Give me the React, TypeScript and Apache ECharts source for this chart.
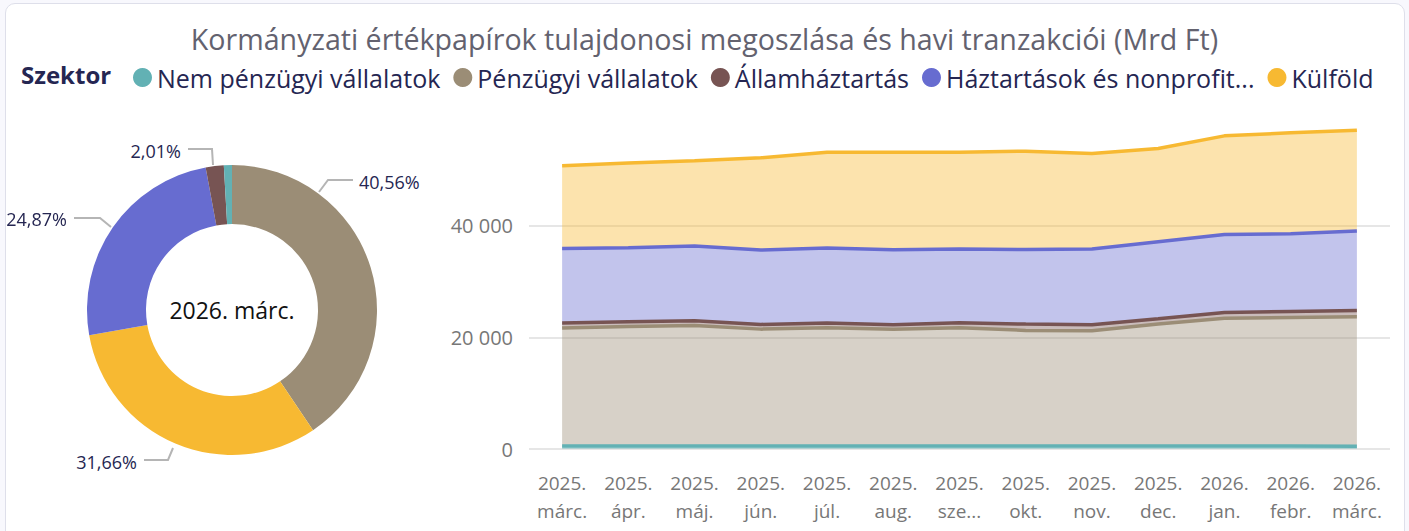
import React, { useEffect, useRef } from "react";
import * as echarts from "echarts";

const TITLE = "Kormányzati értékpapírok tulajdonosi megoszlása és havi tranzakciói (Mrd Ft)";
const PIE_LABEL = "2026. márc.";

const months = [
  "2025. márc.", "2025. ápr.", "2025. máj.", "2025. jún.", "2025. júl.", "2025. aug.",
  "2025. szept.", "2025. okt.", "2025. nov.", "2025. dec.", "2026. jan.", "2026. febr.", "2026. márc.",
];

const seriesNames = [
  "Nem pénzügyi vállalatok",
  "Pénzügyi vállalatok",
  "Államháztartás",
  "Háztartások és nonprofit intézmények",
  "Külföld",
];

const nemPenzugyi = [520, 520, 520, 520, 520, 520, 520, 520, 520, 520, 515, 515, 514];
const penzugyi = [21130, 21430, 21610, 20950, 21190, 20950, 21190, 20720, 20660, 21850, 22920, 23040, 23160];
const allamhaztartas = [900, 850, 840, 840, 840, 800, 900, 1130, 1080, 960, 1020, 1080, 1148];
const haztartasok = [13370, 13250, 13370, 13310, 13430, 13430, 13190, 13370, 13550, 13790, 13960, 13910, 14201];
const kulfold = [14800, 15160, 15280, 16530, 17190, 17430, 17370, 17600, 17130, 16710, 17670, 18080, 18078];

const colors = ["#62b1b4", "#9b8d76", "#775453", "#676cd0", "#f7b932"];

const seriesValues = [nemPenzugyi, penzugyi, allamhaztartas, haztartasok, kulfold];

// Placement of the donut's outside labels (pixel layout, by slice order: largest first)
const pieLabelLayout = [
  { x: 359, y: 182, align: "left", line: [[319, 192], [328, 180], [353, 180]] },
  { x: 137, y: 462, align: "right", line: [[173, 448], [168, 460], [144, 460]] },
  { x: 67, y: 219, align: "right", line: [[111, 227], [100, 218], [74, 218]] },
  { x: 181, y: 151, align: "right", line: [[213, 165], [212, 149], [188, 149]] },
];

export default function App() {
  const ref = useRef<HTMLDivElement>(null);
  useEffect(() => {
    if (!ref.current) return;
    const chart = echarts.init(ref.current, undefined, { renderer: "svg" });
    const last = months.length - 1;
    const pieData = seriesNames
      .map((n, i) => ({
        name: n,
        value: seriesValues[i][last],
        itemStyle: { color: colors[i] },
        label: { show: i !== 0 },
        labelLine: { show: i !== 0 },
      }))
      .sort((a, b) => b.value - a.value);

    const font = "'Open Sans', 'Noto Sans', sans-serif";
    chart.setOption({
      animation: false,
      textStyle: { fontFamily: font },
      title: {
        text: TITLE,
        left: "center",
        top: 19,
        textStyle: { fontFamily: font, fontWeight: "normal", fontSize: 28.6, color: "#63626f" },
      },
      legend: {
        left: 128,
        top: 60,
        icon: "circle",
        itemWidth: 19,
        itemHeight: 19,
        itemGap: 13,
        data: seriesNames,
        formatter: (n: string) => (n.startsWith("Háztartások") ? "Háztartások és nonprofit..." : n),
        textStyle: { fontFamily: font, fontSize: 25, color: "#252652" },
      },
      graphic: [
        {
          type: "text",
          left: 21,
          top: 62,
          style: { text: "Szektor", fontFamily: font, fontSize: 24, fontWeight: "bold", fill: "#252652" },
        },
        {
          type: "text",
          x: 232,
          y: 310,
          style: {
            text: PIE_LABEL,
            fontFamily: font,
            fontSize: 23,
            fill: "#111",
            align: "center",
            verticalAlign: "middle",
          },
        },
      ],
      grid: { left: 529, right: 19, top: 114, bottom: 82, containLabel: false },
      xAxis: {
        type: "category",
        data: months,
        boundaryGap: true,
        axisLine: { show: false },
        axisTick: { show: false },
        axisLabel: {
          interval: 0,
          color: "#777",
          fontSize: 19,
          lineHeight: 28,
          margin: 20,
          formatter: (v: string) => v.replace("szept.", "sze...").replace(" ", "\n"),
        },
      },
      yAxis: {
        type: "value",
        min: 0,
        max: 60000,
        interval: 20000,
        axisLine: { show: false },
        axisTick: { show: false },
        axisLabel: {
          color: "#777",
          fontSize: 20,
          margin: 16,
          showMaxLabel: false,
          formatter: (v: number) => String(v).replace(/\B(?=(\d{3})+(?!\d))/g, " "),
        },
        splitLine: { showMaxLine: false, lineStyle: { color: "#e6e6e6", width: 2 } },
      },
      series: [
        ...seriesNames.map((n, i) => ({
          name: n,
          type: "line",
          stack: "total",
          data: seriesValues[i],
          showSymbol: false,
          symbol: "none",
          color: colors[i],
          lineStyle: { width: 3.5, color: colors[i] },
          areaStyle: { color: colors[i], opacity: 0.4 },
        })),
        {
          name: "pie",
          type: "pie",
          center: [232, 310],
          radius: [86, 145],
          startAngle: 90,
          clockwise: true,
          label: {
            formatter: (p: any) => p.percent.toFixed(2).replace(".", ",") + "%",
            color: "#252652",
            fontSize: 18,
            fontFamily: font,
            overflow: "none",
            edgeDistance: 0,
          },
          labelLine: { length: 14, length2: 26, lineStyle: { color: "#b5b5b5", width: 2 } },
          labelLayout: (p: any) => {
            const l = pieLabelLayout[p.dataIndex];
            if (!l) return {};
            return {
              x: l.x,
              y: l.y,
              width: 90,
              align: l.align,
              verticalAlign: "middle",
              labelLinePoints: l.line,
            };
          },
          data: pieData,
        },
      ],
    });
    return () => chart.dispose();
  }, []);

  return (
    <div style={{ position: "fixed", left: 0, top: 0, width: 1409, height: 531, background: "#f8f8fd" }}>
      <div
        style={{
          position: "absolute",
          left: 5,
          top: 3,
          width: 1400,
          height: 560,
          background: "#fff",
          border: "1px solid #dedfea",
          borderRadius: 10,
          boxSizing: "border-box",
        }}
      />
      <div ref={ref} style={{ position: "absolute", left: 0, top: 0, width: 1409, height: 531 }} />
    </div>
  );
}
